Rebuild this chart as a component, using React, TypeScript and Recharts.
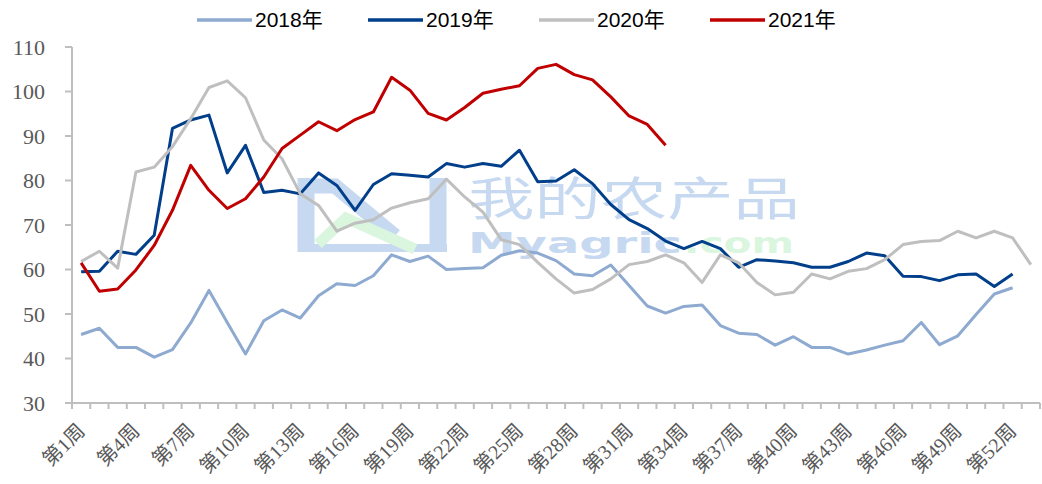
import React from "react";
import { LineChart, Line, XAxis, YAxis } from "recharts";

// weekly price, 第1周 .. 第53周
const WEEKS = Array.from({ length: 53 }, (_, i) => `第${i + 1}周`);

const Y2018 = [
  45.4, 46.8, 42.5, 42.5, 40.3, 42.0, 48.0, 55.3, 48.1, 41.0,
  48.5, 50.9, 49.1, 54.1, 56.8, 56.4, 58.6, 63.3, 61.8, 63.0,
  60.0, 60.2, 60.4, 63.2, 64.2, 63.7, 62.0, 59.0, 58.6, 61.0,
  56.4, 51.8, 50.2, 51.7, 52.0, 47.4, 45.7, 45.4, 43.0, 44.9,
  42.5, 42.5, 41.0, 41.9, 43.0, 44.0, 48.1, 43.1, 45.1, 49.9,
  54.5, 55.9,
];
const Y2019 = [
  59.5, 59.6, 64.1, 63.4, 67.7, 91.7, 93.6, 94.7, 81.7, 87.9,
  77.3, 77.8, 77.0, 81.7, 78.9, 73.3, 79.1, 81.5, 81.2, 80.8,
  83.8, 83.0, 83.8, 83.2, 86.8, 79.7, 79.9, 82.4, 79.3, 74.6,
  71.2, 69.2, 66.4, 64.7, 66.3, 64.7, 60.5, 62.2, 61.9, 61.5,
  60.5, 60.5, 61.8, 63.7, 63.1, 58.5, 58.4, 57.5, 58.8, 59.0,
  56.2, 59.0,
];
const Y2020 = [
  61.8, 64.1, 60.3, 81.9, 83.0, 87.6, 93.9, 100.9, 102.4, 98.6,
  89.1, 84.9, 77.0, 74.4, 68.6, 70.4, 71.2, 73.8, 75.0, 75.9,
  80.3, 76.3, 72.9, 66.7, 65.6, 61.6, 57.9, 54.7, 55.5, 57.9,
  61.1, 61.8, 63.3, 61.5, 57.1, 63.3, 61.5, 57.1, 54.3, 54.9,
  59.0, 57.9, 59.6, 60.2, 62.2, 65.6, 66.3, 66.5, 68.6, 67.1,
  68.6, 67.1, 61.1,
];
const Y2021 = [
  61.5, 55.1, 55.6, 59.9, 65.4, 73.3, 83.4, 77.8, 73.7, 75.9,
  80.8, 87.2, 90.2, 93.2, 91.2, 93.7, 95.4, 103.2, 100.3, 95.1,
  93.6, 96.4, 99.6, 100.5, 101.3, 105.2, 106.1, 103.8, 102.6, 98.8,
  94.5, 92.6, 87.9,
];
const Y_TICKS = [30, 40, 50, 60, 70, 80, 90, 100, 110];

const SERIES = [
  { key: "y2018", name: "2018年", color: "#8eaad0", values: Y2018 },
  { key: "y2019", name: "2019年", color: "#013f8b", values: Y2019 },
  { key: "y2020", name: "2020年", color: "#bfbfbf", values: Y2020 },
  { key: "y2021", name: "2021年", color: "#c00000", values: Y2021 },
];

const data = WEEKS.map((week, i) => {
  const row: Record<string, string | number | null> = { week };
  SERIES.forEach((s) => {
    row[s.key] = i < s.values.length ? s.values[i] : null;
  });
  return row;
});

const W = 1042;
const H = 484;
const PLOT = { left: 72, right: 1040, top: 47, bottom: 403 };
const BAND = (PLOT.right - PLOT.left) / WEEKS.length;
const AXIS_COLOR = "#bfbfbf";
const LABEL_COLOR = "#595959";
const SERIF = "'Liberation Serif', 'Times New Roman', 'Noto Sans CJK SC', serif";

function WeekTick(props: any) {
  const { x, payload, index } = props;
  const half = BAND / 2;
  const tx = x + 5;
  const ty = PLOT.bottom + 29;
  return (
    <g>
      <line x1={x - half} x2={x - half} y1={PLOT.bottom} y2={PLOT.bottom + 6} stroke={AXIS_COLOR} strokeWidth={2} />
      {index === WEEKS.length - 1 && (
        <line x1={x + half} x2={x + half} y1={PLOT.bottom} y2={PLOT.bottom + 6} stroke={AXIS_COLOR} strokeWidth={2} />
      )}
      {index % 3 === 0 && (
        <text
          x={tx}
          y={ty}
          textAnchor="end"
          transform={`rotate(-45 ${tx} ${ty})`}
          fill={LABEL_COLOR}
          fontSize={20}
          fontFamily={SERIF}
        >
          {payload.value}
        </text>
      )}
    </g>
  );
}

// faint site watermark behind the plot
function Watermark() {
  const blue = "#c6d9f1";
  const green = "#daf6df";
  return (
    <svg width={W} height={H} style={{ position: "absolute", left: 0, top: 0 }}>
      <g fill="none" strokeLinejoin="miter">
        <path d="M306,178 V252" stroke={blue} strokeWidth={17} />
        <path d="M298,186 H335 L395,236" stroke={blue} strokeWidth={15} />
        <path d="M438,178 V252" stroke={blue} strokeWidth={17} />
        <path d="M298,248 H447" stroke={blue} strokeWidth={8} />
        <path d="M318,244 L346,218 L415,249" stroke={green} strokeWidth={11} />
      </g>
      <text
        x={468}
        y={215}
        fontSize={46}
        fill={blue}
        fontFamily="'Noto Sans CJK SC', sans-serif"
        textLength={332}
        lengthAdjust="spacingAndGlyphs"
      >
        我的农产品
      </text>
      <text x={468} y={253} fontSize={28} fontWeight="bold" fill={blue} fontFamily="'DejaVu Sans', sans-serif" textLength={214} lengthAdjust="spacingAndGlyphs">
        Myagric
      </text>
      <text x={684} y={253} fontSize={28} fontWeight="bold" fill={green} fontFamily="'DejaVu Sans', sans-serif" textLength={110} lengthAdjust="spacingAndGlyphs">
        .com
      </text>
    </svg>
  );
}

function TopLegend() {
  return (
    <svg width={W} height={40} style={{ position: "absolute", left: 0, top: 0 }}>
      {SERIES.map((s, i) => {
        const x0 = 197 + i * 171;
        return (
          <g key={s.key}>
            <line x1={x0} x2={x0 + 55} y1={20} y2={20} stroke={s.color} strokeWidth={3.5} />
            <text x={x0 + 58} y={27} fontSize={21} fill="#000" fontFamily="'Liberation Sans', Arial, 'Noto Sans CJK SC', sans-serif">
              {s.name}
            </text>
          </g>
        );
      })}
    </svg>
  );
}

export default function App() {
  return (
    <div style={{ position: "absolute", left: 0, top: 0, width: W, height: H, background: "#fff" }}>
      <Watermark />
      <div style={{ position: "absolute", left: 0, top: 0 }}>
        <LineChart
          width={W}
          height={H}
          data={data}
          margin={{ top: PLOT.top, right: W - PLOT.right, bottom: 0, left: 0 }}
        >
          <XAxis
            dataKey="week"
            interval={0}
            padding={{ left: BAND / 2, right: BAND / 2 }}
            tickLine={false}
            axisLine={{ stroke: AXIS_COLOR, strokeWidth: 2 }}
            tick={<WeekTick />}
            height={H - PLOT.bottom}
          />
          <YAxis
            domain={[30, 110]}
            ticks={Y_TICKS}
            interval={0}
            width={PLOT.left}
            tickSize={7}
            tickMargin={20}
            axisLine={{ stroke: AXIS_COLOR, strokeWidth: 2 }}
            tickLine={{ stroke: AXIS_COLOR, strokeWidth: 2 }}
            tick={{ fill: LABEL_COLOR, fontSize: 22, fontFamily: SERIF }}
          />
          {SERIES.map((s) => (
            <Line
              key={s.key}
              type="linear"
              dataKey={s.key}
              name={s.name}
              stroke={s.color}
              strokeWidth={3}
              dot={false}
              activeDot={false}
              strokeLinejoin="round"
              isAnimationActive={false}
            />
          ))}
        </LineChart>
      </div>
      <TopLegend />
    </div>
  );
}
